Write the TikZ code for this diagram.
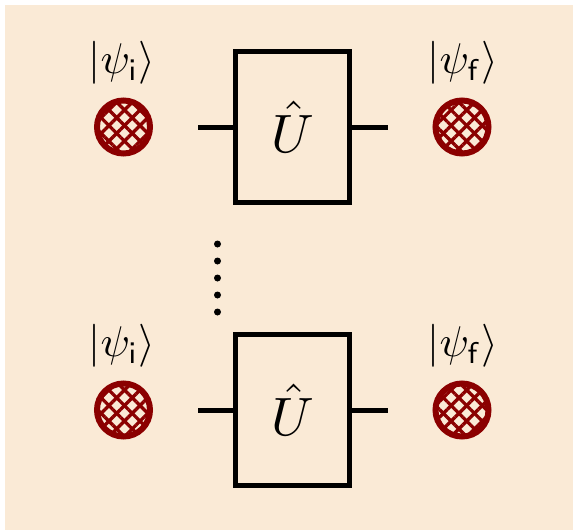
\documentclass[tikz,border=0pt]{standalone}
\usepackage{graphicx}
\usetikzlibrary{patterns.meta}
\definecolor{bgc}{RGB}{250,234,214}
\definecolor{qred}{RGB}{139,0,0}
\newcommand{\bigU}{\scalebox{5.4}{$\hat{U}$}}
\newcommand{\ketI}{\scalebox{4.3}{$|\psi_{\mathsf{i}}\rangle$}}
\newcommand{\ketF}{\scalebox{4.3}{$|\psi_{\mathsf{f}}\rangle$}}
\tikzset{
  gate/.style={draw=black, line width=5pt, minimum width=114pt, minimum height=151pt, inner sep=0pt},
  wire/.style={draw=black, line width=5pt},
  qubit/.style={circle, draw=qred, line width=6pt, minimum size=53pt, inner sep=0pt,
    postaction={pattern={Lines[angle=45,distance=11pt,line width=3.3pt]}, pattern color=qred},
    postaction={pattern={Lines[angle=-45,distance=11pt,line width=3.3pt]}, pattern color=qred}},
  ket/.style={inner sep=0pt},
  vdot/.style={circle, fill=black, minimum size=7pt, inner sep=0pt}
}
\begin{document}
\begin{tikzpicture}[x=1pt,y=-1pt]
\useasboundingbox (0,0) rectangle (573,530);
\fill[bgc] (5,5) rectangle (573,530);
% top row
\node[gate] (g1) at (292.5,127) {\bigU};
\coordinate (w1l) at (198,127);
\coordinate (w1r) at (388,127);
\draw[wire] (w1l) -- (g1.west);
\draw[wire] (g1.east) -- (w1r);
\node[qubit] (q1l) at (123.5,127) {};
\node[qubit] (q1r) at (462,127) {};
\node[ket] (k1l) at (122,63) {\ketI};
\node[ket] (k1r) at (463,63) {\ketF};
% dots
\node[vdot] (d1) at (217.5,244) {};
\node[vdot] (d2) at (217.5,261) {};
\node[vdot] (d3) at (217.5,278) {};
\node[vdot] (d4) at (217.5,295) {};
\node[vdot] (d5) at (217.5,312) {};
% bottom row
\node[gate] (g2) at (292.5,410) {\bigU};
\coordinate (w2l) at (198,410);
\coordinate (w2r) at (388,410);
\draw[wire] (w2l) -- (g2.west);
\draw[wire] (g2.east) -- (w2r);
\node[qubit] (q2l) at (123.5,410) {};
\node[qubit] (q2r) at (462,410) {};
\node[ket] (k2l) at (122,346) {\ketI};
\node[ket] (k2r) at (463,346) {\ketF};
\end{tikzpicture}
\end{document}
